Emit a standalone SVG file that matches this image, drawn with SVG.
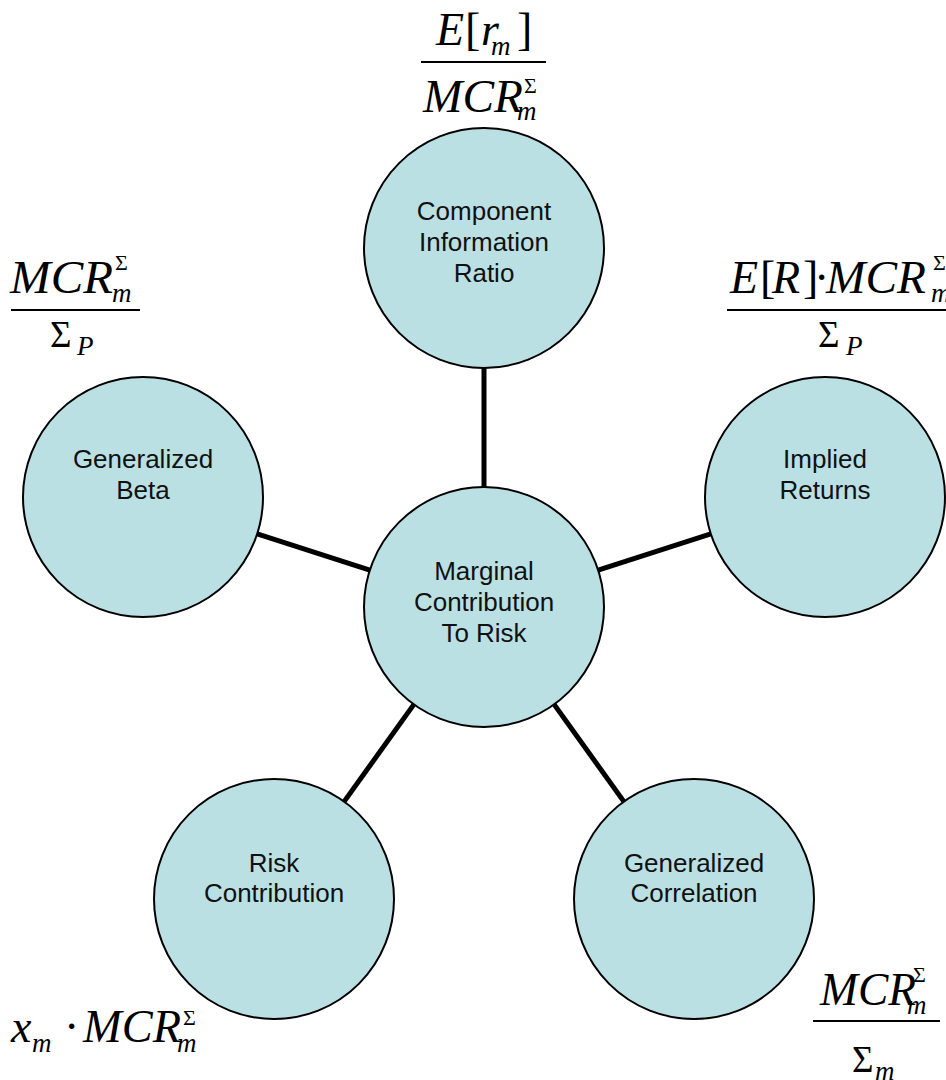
<svg xmlns="http://www.w3.org/2000/svg" width="946" height="1080" viewBox="0 0 946 1080">
<style>
.node{fill:#BAE0E3;stroke:#000;stroke-width:2}
.lbl{font-family:"Liberation Sans",Arial,sans-serif;font-size:26px;fill:#111;text-anchor:middle}
.conn line{stroke:#000;stroke-width:5}
.f{font-family:"Liberation Serif","Times New Roman",serif;fill:#000}
.it{font-style:italic;font-size:46px}
.rm{font-size:46px}
.sub{font-style:italic;font-size:27px}
.sup{font-size:22px}
.big{font-size:37px}
.bar{stroke:#000;stroke-width:2}
</style>
<rect width="946" height="1080" fill="#fff"/>
<g id="connectors" class="conn">
<line x1="484" y1="368" x2="484" y2="487"/>
<line x1="257.2" y1="533.8" x2="369.8" y2="570.2"/>
<line x1="710.8" y1="533.8" x2="598.2" y2="570.2"/>
<line x1="344.1" y1="801.6" x2="413.9" y2="704.4"/>
<line x1="623.9" y1="801.6" x2="554.1" y2="704.4"/>
</g>
<g id="node-center">
<circle class="node" cx="484" cy="607" r="120"/>
<text class="lbl" x="484" y="580">Marginal</text>
<text class="lbl" x="484" y="611">Contribution</text>
<text class="lbl" x="484" y="642">To Risk</text>
</g>
<g id="node-cir">
<circle class="node" cx="484" cy="248" r="120"/>
<text class="lbl" x="484" y="220">Component</text>
<text class="lbl" x="484" y="251">Information</text>
<text class="lbl" x="484" y="282">Ratio</text>
</g>
<g id="node-beta">
<circle class="node" cx="143" cy="497" r="120"/>
<text class="lbl" x="143" y="468">Generalized</text>
<text class="lbl" x="143" y="499">Beta</text>
</g>
<g id="node-implied">
<circle class="node" cx="825" cy="497" r="120"/>
<text class="lbl" x="825" y="468">Implied</text>
<text class="lbl" x="825" y="499">Returns</text>
</g>
<g id="node-risk">
<circle class="node" cx="274" cy="899" r="120"/>
<text class="lbl" x="274" y="872">Risk</text>
<text class="lbl" x="274" y="902">Contribution</text>
</g>
<g id="node-corr">
<circle class="node" cx="694" cy="899" r="120"/>
<text class="lbl" x="694" y="872">Generalized</text>
<text class="lbl" x="694" y="902">Correlation</text>
</g>
<g id="formula-cir" class="f">
<text class="it" x="436" y="45">E</text>
<text class="rm" x="465" y="45">[</text>
<text class="it" x="481" y="45">r</text>
<text class="sub" x="491" y="55">m</text>
<text class="rm" x="517" y="45">]</text>
<line class="bar" x1="421" y1="62" x2="546" y2="62"/>
<text class="it" x="423" y="112" textLength="100" lengthAdjust="spacingAndGlyphs">MCR</text>
<text class="sup" x="524" y="93">Σ</text>
<text class="sub" x="517" y="120">m</text>
</g>
<g id="formula-beta" class="f">
<text class="it" x="10" y="293" textLength="103" lengthAdjust="spacingAndGlyphs">MCR</text>
<text class="sup" x="115" y="270">Σ</text>
<text class="sub" x="112" y="302">m</text>
<line class="bar" x1="11" y1="310" x2="140" y2="310"/>
<text class="big" x="50" y="347">Σ</text>
<text class="sub" x="77" y="355">P</text>
</g>
<g id="formula-implied" class="f">
<text class="it" x="730" y="293">E</text>
<text class="rm" x="760" y="293">[</text>
<text class="it" x="772" y="293">R</text>
<text class="rm" x="803" y="293">]</text>
<text class="rm" x="814" y="293">·</text>
<text class="it" x="826" y="293" textLength="100" lengthAdjust="spacingAndGlyphs">MCR</text>
<text class="sup" x="933" y="270">Σ</text>
<text class="sub" x="931" y="302">m</text>
<line class="bar" x1="727" y1="310" x2="946" y2="310"/>
<text class="big" x="818" y="347">Σ</text>
<text class="sub" x="846" y="355">P</text>
</g>
<g id="formula-risk" class="f">
<text class="it" x="11" y="1042">x</text>
<text class="sub" x="32" y="1052">m</text>
<text class="rm" x="64" y="1042">·</text>
<text class="it" x="83" y="1042" textLength="98" lengthAdjust="spacingAndGlyphs">MCR</text>
<text class="sup" x="183" y="1025">Σ</text>
<text class="sub" x="177" y="1052">m</text>
</g>
<g id="formula-corr" class="f">
<text class="it" x="820" y="1005" textLength="96" lengthAdjust="spacingAndGlyphs">MCR</text>
<text class="sup" x="913" y="982">Σ</text>
<text class="sub" x="907" y="1014">m</text>
<line class="bar" x1="813" y1="1021" x2="940" y2="1021"/>
<text class="big" x="852" y="1072">Σ</text>
<text class="sub" x="875" y="1080">m</text>
</g>
</svg>
